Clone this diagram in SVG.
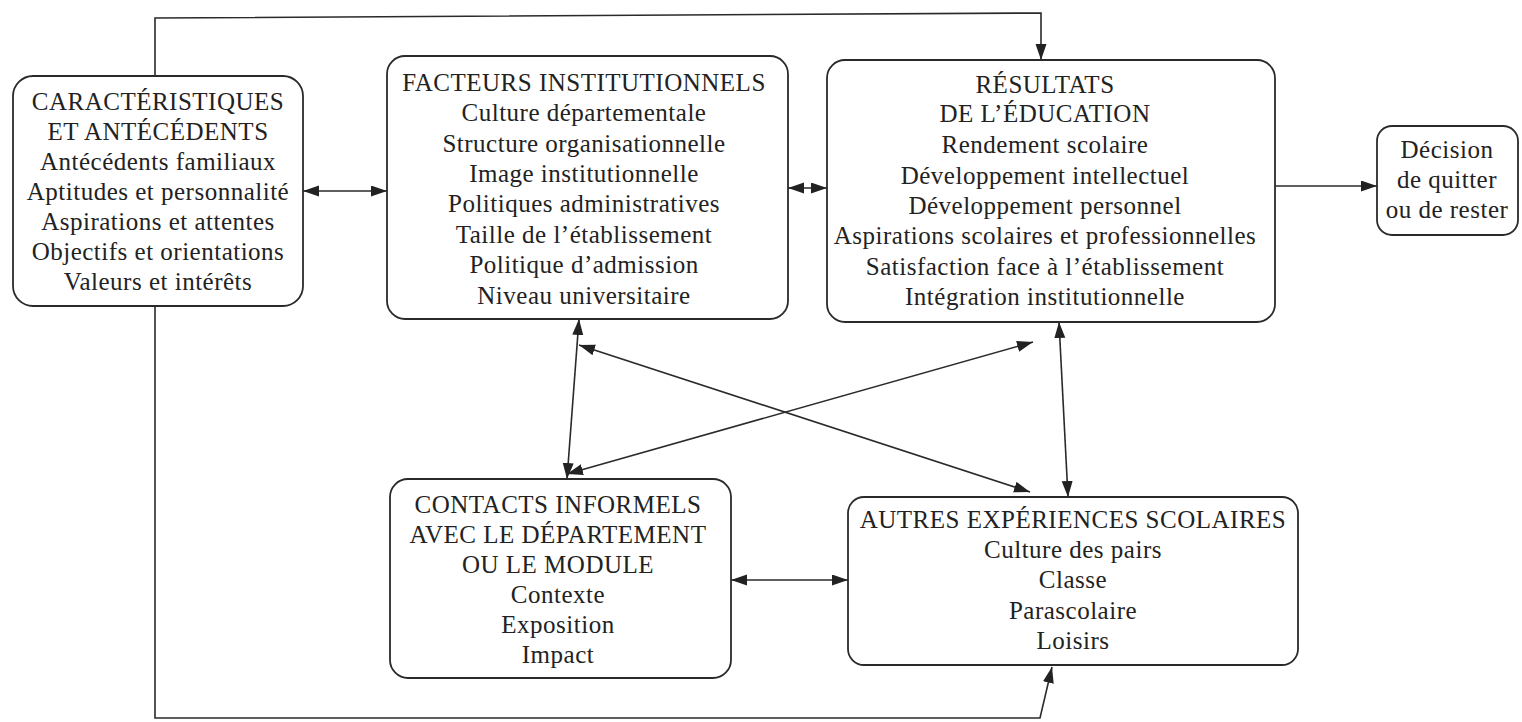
<svg xmlns="http://www.w3.org/2000/svg" width="1522" height="722" viewBox="0 0 1522 722">
  <style>
    .box { fill: #ffffff; stroke: #2a2a2a; stroke-width: 1.8; }
    .lbl { font-family: "Liberation Serif", "DejaVu Serif", serif; font-size: 25px; letter-spacing: 0.5px; fill: #222; text-anchor: middle; }
    .wire { fill: none; stroke: #2a2a2a; stroke-width: 1.6; }
    .both { marker-start: url(#head); marker-end: url(#head); }
    .one { marker-end: url(#head); }
  </style>
  <defs>
    <marker id="head" markerUnits="userSpaceOnUse" markerWidth="17" markerHeight="12" refX="16" refY="5.5" orient="auto-start-reverse">
      <path d="M0,0 L16,5.5 L0,11 z" fill="#222"/>
    </marker>
  </defs>

  <rect width="1522" height="722" fill="#ffffff"/>

  <!-- connectors -->
  <g id="connectors">
    <polyline class="wire one" points="155,76 155,18 1041,13 1041,60"/>
    <polyline class="wire one" points="155,306 155,718 1040,718 1052,667"/>
    <line class="wire both" x1="303" y1="191" x2="387" y2="191"/>
    <line class="wire both" x1="788" y1="188" x2="827" y2="188"/>
    <line class="wire one" x1="1275" y1="186" x2="1377" y2="186"/>
    <line class="wire both" x1="731" y1="580" x2="848" y2="580"/>
    <line class="wire both" x1="579" y1="319" x2="567" y2="479"/>
    <line class="wire both" x1="1059" y1="322" x2="1068" y2="497"/>
    <line class="wire both" x1="579" y1="345" x2="1030" y2="492"/>
    <line class="wire both" x1="567" y1="474" x2="1033" y2="342"/>
  </g>

  <!-- student characteristics -->
  <g id="caracteristiques">
    <rect class="box" x="13" y="76" width="290" height="230" rx="20"/>
    <text class="lbl" x="158" y="110">CARACTÉRISTIQUES</text>
    <text class="lbl" x="158" y="140">ET ANTÉCÉDENTS</text>
    <text class="lbl" x="158" y="170">Antécédents familiaux</text>
    <text class="lbl" x="158" y="200">Aptitudes et personnalité</text>
    <text class="lbl" x="158" y="230">Aspirations et attentes</text>
    <text class="lbl" x="158" y="260">Objectifs et orientations</text>
    <text class="lbl" x="158" y="290">Valeurs et intérêts</text>
  </g>

  <!-- institutional factors -->
  <g id="facteurs">
    <rect class="box" x="387" y="56" width="401" height="263" rx="18"/>
    <text class="lbl" x="584" y="91">FACTEURS INSTITUTIONNELS</text>
    <text class="lbl" x="584" y="121">Culture départementale</text>
    <text class="lbl" x="584" y="152">Structure organisationnelle</text>
    <text class="lbl" x="584" y="182">Image institutionnelle</text>
    <text class="lbl" x="584" y="212">Politiques administratives</text>
    <text class="lbl" x="584" y="243">Taille de l’établissement</text>
    <text class="lbl" x="584" y="273">Politique d’admission</text>
    <text class="lbl" x="584" y="304">Niveau universitaire</text>
  </g>

  <!-- educational outcomes -->
  <g id="resultats">
    <rect class="box" x="827" y="60" width="448" height="262" rx="18"/>
    <text class="lbl" x="1045" y="93">RÉSULTATS</text>
    <text class="lbl" x="1045" y="122">DE L’ÉDUCATION</text>
    <text class="lbl" x="1045" y="153">Rendement scolaire</text>
    <text class="lbl" x="1045" y="184">Développement intellectuel</text>
    <text class="lbl" x="1045" y="214">Développement personnel</text>
    <text class="lbl" x="1045" y="244">Aspirations scolaires et professionnelles</text>
    <text class="lbl" x="1045" y="275">Satisfaction face à l’établissement</text>
    <text class="lbl" x="1045" y="305">Intégration institutionnelle</text>
  </g>

  <!-- decision -->
  <g id="decision">
    <rect class="box" x="1377" y="126" width="141" height="109" rx="15"/>
    <text class="lbl" x="1447" y="158">Décision</text>
    <text class="lbl" x="1447" y="188">de quitter</text>
    <text class="lbl" x="1447" y="218">ou de rester</text>
  </g>

  <!-- informal contacts -->
  <g id="contacts">
    <rect class="box" x="390" y="479" width="341" height="199" rx="18"/>
    <text class="lbl" x="558" y="513">CONTACTS INFORMELS</text>
    <text class="lbl" x="558" y="543">AVEC LE DÉPARTEMENT</text>
    <text class="lbl" x="558" y="573">OU LE MODULE</text>
    <text class="lbl" x="558" y="603">Contexte</text>
    <text class="lbl" x="558" y="633">Exposition</text>
    <text class="lbl" x="558" y="663">Impact</text>
  </g>

  <!-- other school experiences -->
  <g id="autres">
    <rect class="box" x="848" y="497" width="450" height="168" rx="16"/>
    <text class="lbl" x="1073" y="528">AUTRES EXPÉRIENCES SCOLAIRES</text>
    <text class="lbl" x="1073" y="558">Culture des pairs</text>
    <text class="lbl" x="1073" y="588">Classe</text>
    <text class="lbl" x="1073" y="619">Parascolaire</text>
    <text class="lbl" x="1073" y="649">Loisirs</text>
  </g>
</svg>
